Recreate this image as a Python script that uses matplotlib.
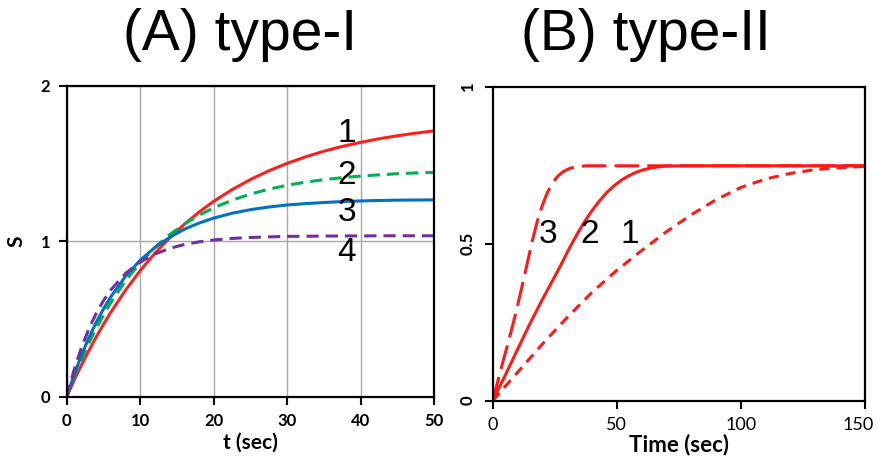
import matplotlib
matplotlib.use("Agg")
import matplotlib.pyplot as plt
import matplotlib.transforms as mtransforms

# ---- data: panel A (type-I) ----
t_a = [0, 1, 2, 3, 4, 5, 6, 8, 10, 12, 14, 16, 18, 20, 22.5, 25, 27.5, 30,
       32.5, 35, 37.5, 40, 42.5, 45, 47.5, 50]
s_a1 = [0, 0.105, 0.203, 0.295, 0.383, 0.466, 0.543, 0.685, 0.811, 0.923, 1.022,
        1.109, 1.187, 1.257, 1.332, 1.397, 1.453, 1.501, 1.543, 1.579, 1.610,
        1.636, 1.659, 1.678, 1.695, 1.710]
s_a2 = [0, 0.125, 0.239, 0.343, 0.438, 0.525, 0.606, 0.745, 0.862, 0.960, 1.042,
        1.110, 1.167, 1.215, 1.264, 1.303, 1.335, 1.360, 1.380, 1.396, 1.409,
        1.419, 1.427, 1.434, 1.439, 1.443]
s_a3 = [0, 0.141, 0.266, 0.378, 0.477, 0.565, 0.643, 0.775, 0.878, 0.960, 1.025,
        1.077, 1.117, 1.149, 1.180, 1.203, 1.220, 1.233, 1.242, 1.249, 1.255,
        1.259, 1.262, 1.264, 1.265, 1.266]
s_a4 = [0, 0.172, 0.316, 0.435, 0.535, 0.618, 0.687, 0.793, 0.867, 0.918, 0.954,
        0.979, 0.996, 1.008, 1.018, 1.024, 1.028, 1.031, 1.032, 1.033, 1.034,
        1.034, 1.035, 1.035, 1.035, 1.035]
labels_a = ["1", "2", "3", "4"]
label_pos_a = [(38.1, 1.69), (38.1, 1.42), (38.1, 1.185), (38.1, 0.927)]

# ---- data: panel B (type-II) ----
t_b3 = [0, 2, 4, 6, 8, 10, 12, 14, 16, 18, 20, 22, 24, 26, 28, 30, 32, 35, 38,
        60, 100, 150]
s_b3 = [0, 0.06, 0.12, 0.178, 0.238, 0.302, 0.37, 0.44, 0.51, 0.572, 0.622,
        0.662, 0.692, 0.713, 0.727, 0.736, 0.742, 0.746, 0.748, 0.748, 0.748, 0.748]
t_b2 = [0, 5, 10, 15, 20, 25, 28, 31, 34, 37, 40, 43, 46, 49, 52, 55, 58, 61,
        64, 67, 70, 75, 100, 150]
s_b2 = [0, 0.08, 0.163, 0.245, 0.322, 0.395, 0.44, 0.487, 0.53, 0.57, 0.605,
        0.636, 0.663, 0.685, 0.703, 0.717, 0.728, 0.736, 0.741, 0.745, 0.747,
        0.748, 0.748, 0.748]
t_b1 = [0, 10, 20, 30, 40, 50, 60, 70, 80, 90, 100, 110, 120, 130, 140, 150]
s_b1 = [0, 0.09, 0.18, 0.265, 0.345, 0.415, 0.478, 0.538, 0.592, 0.64, 0.679,
        0.706, 0.724, 0.736, 0.742, 0.746]
labels_b = ["3", "2", "1"]
label_pos_b = [(22.3, 0.53), (39.2, 0.53), (55.3, 0.53)]

fig = plt.figure(figsize=(8.77, 4.71), dpi=100)
title_font = dict(family="Liberation Sans", fontsize=41)
fig.text(0.274, 0.925, "(A) type-I", ha="center", va="center", **title_font)
fig.text(0.736, 0.925, "(B) type-II", ha="center", va="center", **title_font)

# ==========================================
# Panel A
# ==========================================
ax1 = fig.add_axes([0.0761, 0.1577, 0.4191, 0.6603])
ax1.plot(t_a, s_a1, color="#ff1f1f", lw=2.2)
ax1.plot(t_a, s_a2, color="#00b050", lw=2.2, dashes=(4, 2.3))
ax1.plot(t_a, s_a3, color="#0070c0", lw=2.2)
ax1.plot(t_a, s_a4, color="#7030a0", lw=2.2, dashes=(4, 2.3))
for lab, (x, y) in zip(labels_a, label_pos_a):
    ax1.text(x, y, lab, ha="center", va="center", fontsize=24, family="Liberation Sans")

ax1.set_xlim(0, 50)
ax1.set_ylim(0, 2)
ax1.set_xticks([0, 10, 20, 30, 40, 50])
ax1.set_yticks([0, 1, 2])
ax1.grid(True, color="#a8a8a8", lw=1.0)
ax1.set_axisbelow(True)
for sp in ax1.spines.values():
    sp.set_linewidth(1.6)
ax1.tick_params(direction="out", length=6, width=1.5, labelsize=12, pad=6)
for lab in ax1.get_xticklabels() + ax1.get_yticklabels():
    lab.set_fontweight("bold")
    lab.set_family("Lato")
ax1.set_xlabel("t (sec)", fontsize=15, fontweight="bold", family="Lato", labelpad=2)
ax1.set_ylabel("S", fontsize=15, fontweight="bold", family="Lato", labelpad=10)

# ==========================================
# Panel B
# ==========================================
ax2 = fig.add_axes([0.5618, 0.1493, 0.4245, 0.6667])
ax2.plot(t_b3, s_b3, color="#ff1a1a", lw=2.2, dashes=(8, 2.7))
ax2.plot(t_b2, s_b2, color="#ff1a1a", lw=2.2)
ax2.plot(t_b1, s_b1, color="#ff1a1a", lw=2.2, dashes=(3.3, 2.3))
for lab, (x, y) in zip(labels_b, label_pos_b):
    ax2.text(x, y, lab, ha="center", va="center", fontsize=24, family="Liberation Sans")

ax2.set_xlim(0, 150)
ax2.set_ylim(0, 1)
ax2.set_xticks([0, 50, 100, 150])
ax2.set_yticks([0, 0.5, 1])
ax2.set_yticklabels(["0", "0.5", "1"], rotation=90, va="center")
for sp in ax2.spines.values():
    sp.set_linewidth(1.6)
ax2.tick_params(direction="out", length=6, width=1.5, pad=6)
for lab in ax2.get_xticklabels():
    lab.set_family("Lato")
    lab.set_fontsize(13)
# keep the last label inside the figure edge
last = ax2.get_xticklabels()[-1]
last.set_transform(last.get_transform() +
                   mtransforms.ScaledTranslation(-5 / 72, 0, fig.dpi_scale_trans))
for lab in ax2.get_yticklabels():
    lab.set_fontweight("bold")
    lab.set_family("Lato")
    lab.set_fontsize(12)
ax2.set_xlabel("Time (sec)", fontsize=16, family="Lato", fontweight="bold", labelpad=0)

fig.savefig("out.png", dpi=100)
